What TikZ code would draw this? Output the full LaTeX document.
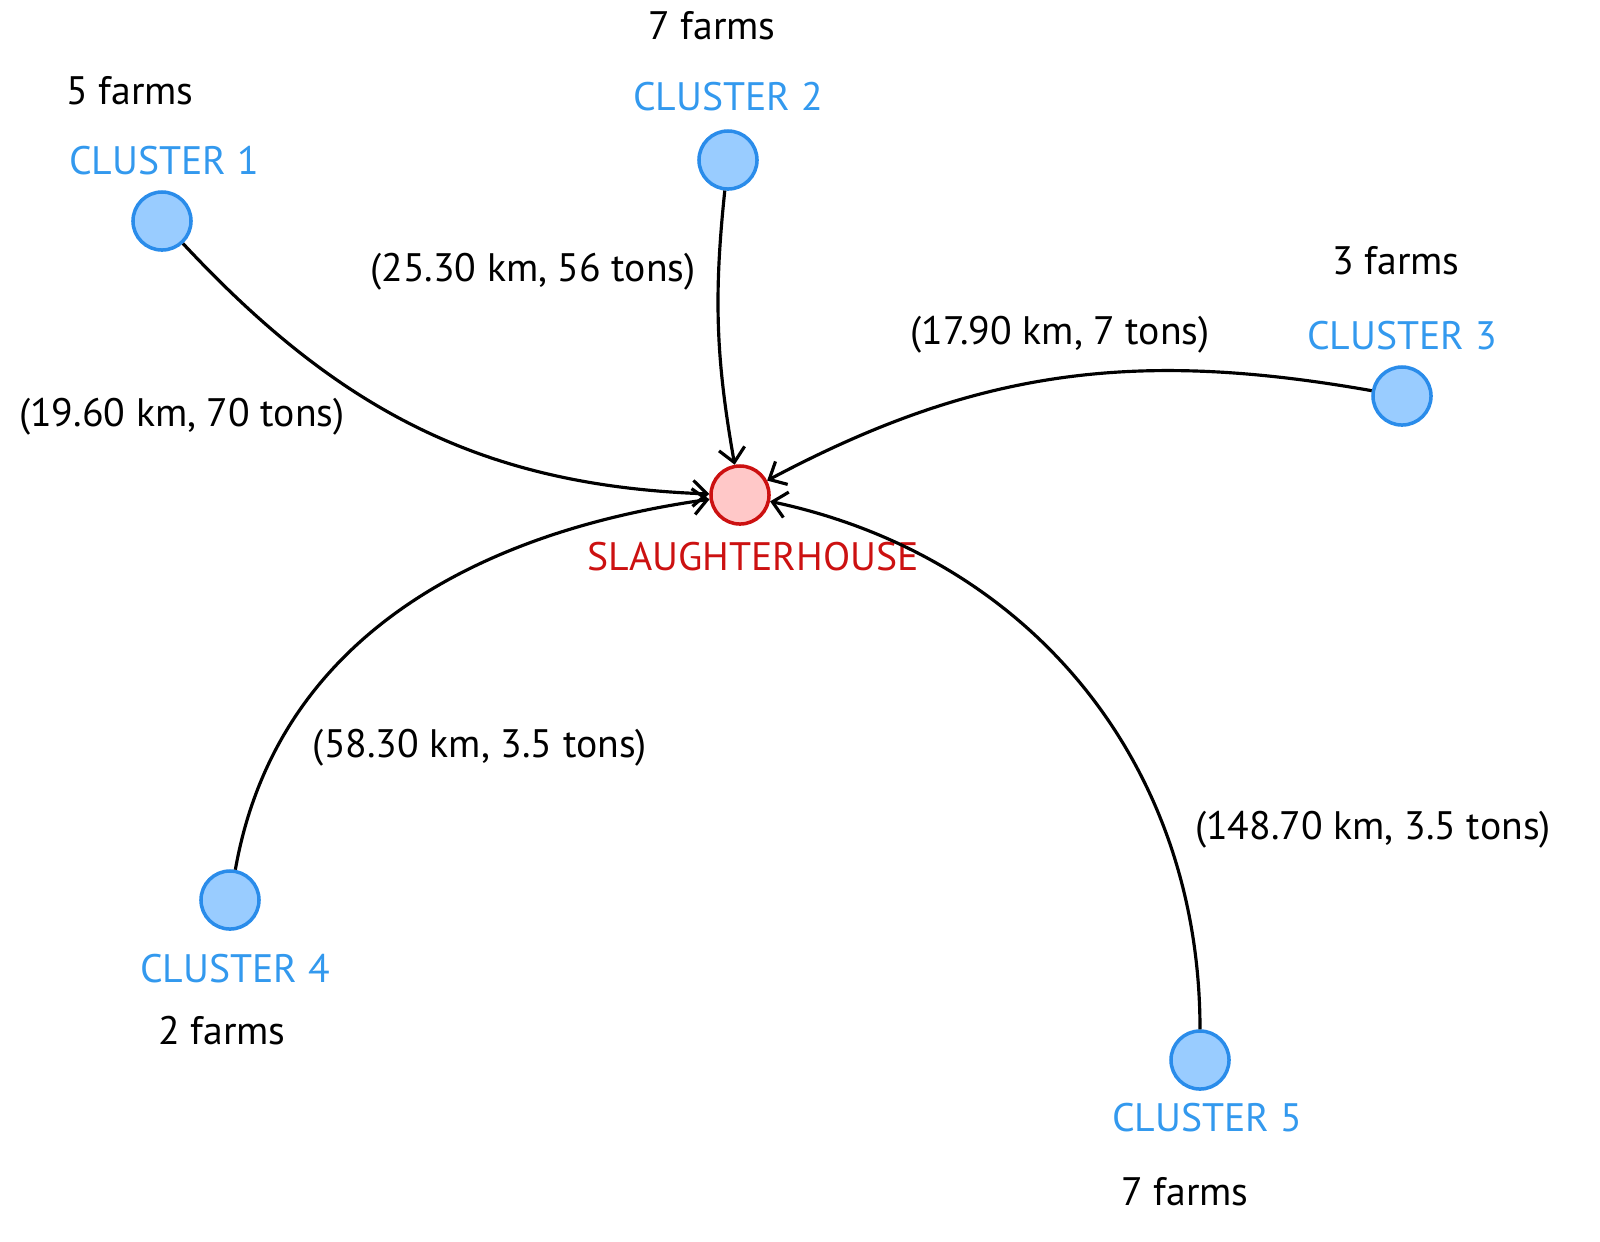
\documentclass[tikz,border=0pt]{standalone}
\usepackage{fontspec}
\setmainfont{PT Sans}
\usetikzlibrary{positioning,arrows.meta}

\definecolor{clfill}{HTML}{99CCFF}
\definecolor{cldraw}{HTML}{2A8CEA}
\definecolor{cltext}{HTML}{3399EE}
\definecolor{shfill}{HTML}{FFC8C8}
\definecolor{shdraw}{HTML}{CC1111}

\begin{document}
\begin{tikzpicture}[-{Straight Barb[length=1.4mm,width=2.6mm]} ,x=0.01cm ,y=-0.01cm ,on grid ,
    line width=0.9pt ,font=\fontsize{11.3}{13}\selectfont ,
    cluster/.style ={circle ,fill=clfill ,draw=cldraw ,line width=1pt ,minimum size =0.58cm ,inner sep=0pt},
    house/.style ={circle ,fill=shfill ,draw=shdraw ,line width=1pt ,minimum size =0.58cm ,inner sep=0pt},
    clname/.style ={text=cltext ,inner sep=0pt ,text height=1.6ex ,text depth=0.2ex},
    farms/.style ={inner sep=0pt ,text height=1.6ex ,text depth=0.2ex},
    cost/.style ={inner sep=0pt}]
    \useasboundingbox (0,0) rectangle (1600,1241);

    \node[house] (SH) at (740,495) {};
    \node[clname ,text=shdraw] (SHl) [below = 0.63cm of SH ,xshift=0.13cm] {SLAUGHTERHOUSE};

    \node[cluster] (C1) at (162,221) {};
    \node[clname] (C1l) [above = 0.59cm of C1 ,xshift=0.02cm] {CLUSTER 1};
    \node[farms] (C1f) [above = 0.70cm of C1l ,xshift=-0.34cm] {5 farms};

    \node[cluster] (C2) at (728,160) {};
    \node[clname] (C2l) [above = 0.62cm of C2] {CLUSTER 2};
    \node[farms] (C2f) [above = 0.71cm of C2l ,xshift=-0.16cm] {7 farms};

    \node[cluster] (C3) at (1402,396) {};
    \node[clname] (C3l) [above = 0.59cm of C3] {CLUSTER 3};
    \node[farms] (C3f) [above = 0.75cm of C3l ,xshift=-0.06cm] {3 farms};

    \node[cluster] (C4) at (230,900) {};
    \node[clname] (C4l) [below = 0.70cm of C4 ,xshift=0.05cm] {CLUSTER 4};
    \node[farms] (C4f) [below = 0.62cm of C4l ,xshift=-0.13cm] {2 farms};

    \node[cluster] (C5) at (1200,1060) {};
    \node[clname] (C5l) [below = 0.59cm of C5 ,xshift=0.07cm] {CLUSTER 5};
    \node[farms] (C5f) [below = 0.74cm of C5l ,xshift=-0.22cm] {7 farms};

    \node[cost] (E1) at (182,417) {(19.60 km, 70 tons)};
    \node[cost] (E2) at (533,272) {(25.30 km, 56 tons)};
    \node[cost] (E3) at (1060,335) {(17.90 km, 7 tons)};
    \node[cost] (E4) at (480,748) {(58.30 km, 3.5 tons)};
    \node[cost] (E5) at (1373,830) {(148.70 km, 3.5 tons)};

    \path (C1) edge [out=-47 ,in=178] (SH);
    \path (C2) edge [out=-96 ,in=100] (SH);
    \path (C3) edge [out=170 ,in=28] (SH);
    \path (C4) edge [out=80 ,in=188] (SH);
    \path (C5) edge [out=90 ,in=-12] (SH);

\end{tikzpicture}
\end{document}
